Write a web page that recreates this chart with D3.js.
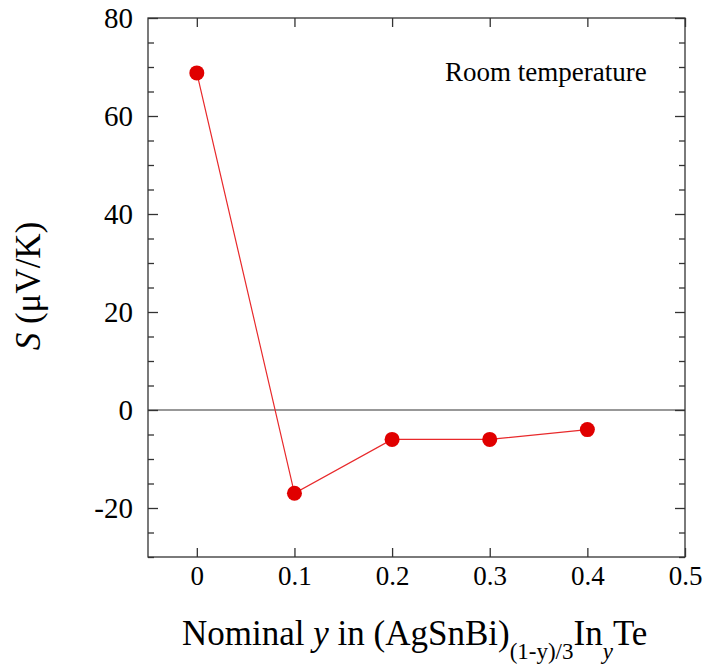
<!DOCTYPE html>
<html><head><meta charset="utf-8">
<script src="https://cdn.jsdelivr.net/npm/d3@7"></script>
<style>
body{margin:0;background:#fff}
svg text{font-family:"Liberation Serif","Times New Roman",serif !important;}
</style>
</head><body>
<script>
const xValues = [0, 0.1, 0.2, 0.3, 0.4];
const sValues = [68.8, -17, -6, -6, -4];
const xTicks = [0, 0.1, 0.2, 0.3, 0.4, 0.5];
const yTicks = [-20, 0, 20, 40, 60, 80];
const yMinorTicks = d3.range(-30, 81, 5);

(function(){
const W = 705, H = 669;
const m = {l:148, r:685, t:18, b:557};
const svg = d3.select("body").append("svg").attr("width", W).attr("height", H);
const x = d3.scaleLinear().domain([-0.05, 0.5]).range([m.l, m.r]);
const y = d3.scaleLinear().domain([-30, 80]).range([m.b, m.t]);
const font = "Liberation Serif, serif";
const axc = "#333";

svg.append("rect").attr("x", m.l).attr("y", m.t).attr("width", m.r - m.l).attr("height", m.b - m.t)
  .attr("fill", "none").attr("stroke", axc).attr("stroke-width", 1.3);

const fmtX = d => d === 0 ? "0" : d3.format(".1f")(d);
const fmtY = d => String(d);
const minorVals = yMinorTicks.filter(v => !yTicks.includes(v));
const axBottom = d3.axisBottom(x).tickValues(xTicks).tickSize(-9).tickFormat(fmtX).tickPadding(12);
const axTop = d3.axisTop(x).tickValues(xTicks).tickSize(-9).tickFormat("");
const axLeft = d3.axisLeft(y).tickValues(yTicks).tickSize(-10).tickFormat(fmtY).tickPadding(15);
const axRight = d3.axisRight(y).tickValues(yTicks).tickSize(-10).tickFormat("");
const axLeftMinor = d3.axisLeft(y).tickValues(minorVals).tickSize(-6).tickFormat("");
const axRightMinor = d3.axisRight(y).tickValues(minorVals).tickSize(-6).tickFormat("");

function style(size){
  return g => {
    g.attr("font-family", font);
    g.select(".domain").remove();
    g.selectAll(".tick line").attr("stroke", axc).attr("stroke-width", 1.3);
    g.selectAll(".tick text").attr("font-size", size).attr("fill", "#000");
  };
}
svg.append("g").attr("transform", `translate(0,${m.b})`).call(axBottom).call(style(27))
  .selectAll(".tick text").attr("dy", null).attr("y", 28);
svg.append("g").attr("transform", `translate(0,${m.t})`).call(axTop).call(style(27));
svg.append("g").attr("transform", `translate(${m.l},0)`).call(axLeft).call(style(29));
svg.append("g").attr("transform", `translate(${m.r},0)`).call(axRight).call(style(29));
svg.append("g").attr("transform", `translate(${m.l},0)`).call(axLeftMinor).call(style(29));
svg.append("g").attr("transform", `translate(${m.r},0)`).call(axRightMinor).call(style(29));

svg.append("line").attr("x1", m.l).attr("x2", m.r).attr("y1", y(0)).attr("y2", y(0))
  .attr("stroke", axc).attr("stroke-width", 1.2);

const data = xValues.map((v, i) => ({x: v, s: sValues[i]}));
svg.append("path").datum(data)
  .attr("d", d3.line().x(d => x(d.x)).y(d => y(d.s)))
  .attr("fill", "none").attr("stroke", "#e8292b").attr("stroke-width", 1.2);
svg.selectAll("circle.pt").data(data).enter().append("circle")
  .attr("cx", d => x(d.x)).attr("cy", d => y(d.s)).attr("r", 7.5).attr("fill", "#e00000");

svg.append("text").attr("x", 445).attr("y", 81).attr("font-size", 27)
  .text("Room temperature");

const yl = svg.append("text").attr("transform", "translate(40,286) rotate(-90)")
  .attr("text-anchor", "middle").attr("font-size", 35);
yl.append("tspan").attr("font-style", "italic").text("S");
yl.append("tspan").text(" (μV/K)");

const xl = svg.append("text").attr("x", 182).attr("y", 645).attr("font-size", 35);
xl.append("tspan").text("Nominal ");
xl.append("tspan").attr("font-style", "italic").text("y");
xl.append("tspan").text(" in (AgSnBi)");
xl.append("tspan").attr("font-size", 23).attr("dy", 14).text("(1-y)/3");
xl.append("tspan").attr("dy", -14).text("In");
xl.append("tspan").attr("font-size", 23).attr("font-style", "italic").attr("dy", 14).text("y");
xl.append("tspan").attr("dy", -14).text("Te");
})();
</script>
</body></html>
